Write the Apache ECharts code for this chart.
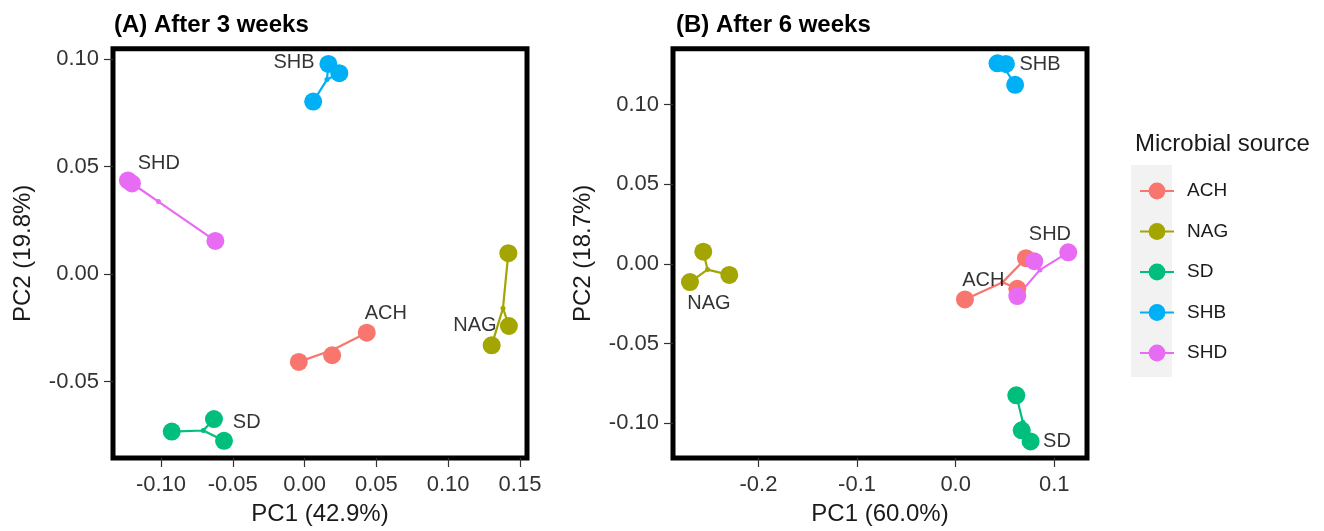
<!DOCTYPE html>
<html><head><meta charset="utf-8">
<script src="https://cdn.jsdelivr.net/npm/echarts@6/dist/echarts.min.js"></script>
<style>html,body{margin:0;padding:0;background:#fff}#c{width:1324px;height:531px}</style>
</head><body><div id="c"></div>
<script>
// ---------- data ----------
const groups = ['ACH', 'NAG', 'SD', 'SHB', 'SHD'];
const groupColors = ['#F8766D', '#A3A500', '#00BF7D', '#00B0F6', '#E76BF3'];

// Panel A: after 3 weeks, [PC1, PC2] per replicate
const wk3_ACH = [[0.0433, -0.0273], [0.0192, -0.0378], [-0.0040, -0.0409]];
const wk3_NAG = [[0.1419, 0.0097], [0.1423, -0.0242], [0.1303, -0.0332]];
const wk3_SD  = [[-0.0925, -0.0733], [-0.0631, -0.0675], [-0.0561, -0.0776]];
const wk3_SHB = [[0.0166, 0.0977], [0.0242, 0.0934], [0.0060, 0.0802]];
const wk3_SHD = [[-0.1230, 0.0435], [-0.1202, 0.0421], [-0.0621, 0.0154]];

// Panel B: after 6 weeks
const wk6_ACH = [[0.0094, -0.0223], [0.0713, 0.0036], [0.0625, -0.0156]];
const wk6_NAG = [[-0.2560, 0.0077], [-0.2296, -0.0069], [-0.2695, -0.0114]];
const wk6_SD  = [[0.0615, -0.0825], [0.0670, -0.1045], [0.0760, -0.1115]];
const wk6_SHB = [[0.0424, 0.1260], [0.0510, 0.1256], [0.0603, 0.1125]];
const wk6_SHD = [[0.0797, 0.0017], [0.0625, -0.0202], [0.1142, 0.0073]];

// group text labels: [name, PC1, PC2]
const wk3_labels = [['SHB', -0.0074, 0.0986], ['SHD', -0.1015, 0.0514], ['NAG', 0.1186, -0.0241],
                    ['ACH', 0.0566, -0.0185], ['SD', -0.0403, -0.0692]];
const wk6_labels = [['SHB', 0.0855, 0.1250], ['NAG', -0.2503, -0.0250], ['SD', 0.1027, -0.1113],
                    ['SHD', 0.0956, 0.0184], ['ACH', 0.0280, -0.0104]];

// axis ticks and ranges
const wk3_xTicks = [-0.10, -0.05, 0.00, 0.05, 0.10, 0.15];
const wk3_yTicks = [-0.05, 0.00, 0.05, 0.10];
const wk6_xTicks = [-0.2, -0.1, 0.0, 0.1];
const wk6_yTicks = [-0.10, -0.05, 0.00, 0.05, 0.10];
const wk3_xRange = [-0.1334, 0.1549], wk3_yRange = [-0.0856, 0.1048];
const wk6_xRange = [-0.2867, 0.1332], wk6_yRange = [-0.1219, 0.1352];

const titles = ['(A) After 3 weeks', '(B) After 6 weeks'];
const xNames = ['PC1 (42.9%)', 'PC1 (60.0%)'];
const yNames = ['PC2 (19.8%)', 'PC2 (18.7%)'];
const legendTitle = 'Microbial source';

// ---------- chart ----------
const FONT = '"Liberation Sans", Arial, Helvetica, sans-serif';
const panels = [
  { pts: [wk3_ACH, wk3_NAG, wk3_SD, wk3_SHB, wk3_SHD], labels: wk3_labels,
    xt: wk3_xTicks, yt: wk3_yTicks, xr: wk3_xRange, yr: wk3_yRange, xd: 2, yd: 2 },
  { pts: [wk6_ACH, wk6_NAG, wk6_SD, wk6_SHB, wk6_SHD], labels: wk6_labels,
    xt: wk6_xTicks, yt: wk6_yTicks, xr: wk6_xRange, yr: wk6_yRange, xd: 1, yd: 2 }
];
const gridPos = [{ left: 113, top: 48.7, width: 414, height: 411.3 },
                 { left: 673, top: 48.7, width: 414, height: 411.3 }];

const grids = [], xAxes = [], yAxes = [], series = [];
panels.forEach((p, i) => {
  grids.push(Object.assign({ show: true, borderColor: '#000', borderWidth: 5, backgroundColor: '#fff', containLabel: false }, gridPos[i]));
  const axisCommon = (ticks, dec, margin) => ({
    type: 'value', gridIndex: i,
    axisLine: { show: false, onZero: false },
    splitLine: { show: false },
    axisTick: { show: true, length: 9, customValues: ticks, lineStyle: { color: '#333', width: 1.2 } },
    axisLabel: { customValues: ticks, formatter: v => v.toFixed(dec), fontSize: 22, color: '#333', fontFamily: FONT, margin: margin },
    nameLocation: 'middle',
    nameTextStyle: { fontSize: 24, color: '#1a1a1a', fontFamily: FONT }
  });
  xAxes.push(Object.assign(axisCommon(p.xt, p.xd, 16), { min: p.xr[0], max: p.xr[1], name: xNames[i], nameGap: 44 }));
  yAxes.push(Object.assign(axisCommon(p.yt, p.yd, 14), { min: p.yr[0], max: p.yr[1], name: yNames[i], nameGap: 78, nameRotate: 90 }));

  // spider lines: each sample to group centroid
  p.pts.forEach((pts, g) => {
    const cx = pts.reduce((s, q) => s + q[0], 0) / pts.length;
    const cy = pts.reduce((s, q) => s + q[1], 0) / pts.length;
    const path = [];
    pts.forEach((q, k) => { if (k > 0) path.push([cx, cy]); path.push(q); });
    series.push({ type: 'line', name: groups[g], xAxisIndex: i, yAxisIndex: i, data: path,
      symbol: 'circle', symbolSize: 18, showSymbol: false, silent: true, animation: false,
      color: groupColors[g], itemStyle: { color: groupColors[g] },
      lineStyle: { color: groupColors[g], width: 2.2 }, z: 2 });
    series.push({ type: 'scatter', name: groups[g], xAxisIndex: i, yAxisIndex: i, data: [[cx, cy]],
      symbol: 'circle', symbolSize: 5, itemStyle: { color: groupColors[g], opacity: 1 }, silent: true, animation: false, z: 3 });
  });
  p.pts.forEach((pts, g) => {
    series.push({ type: 'scatter', name: groups[g], xAxisIndex: i, yAxisIndex: i, data: pts,
      symbol: 'circle', symbolSize: 18, itemStyle: { color: groupColors[g], opacity: 1 }, silent: true, animation: false, z: 4 });
  });
  series.push({ type: 'scatter', name: 'labels' + i, xAxisIndex: i, yAxisIndex: i,
    data: p.labels.map(l => [l[1], l[2], l[0]]), symbolSize: 0.1, itemStyle: { color: 'rgba(0,0,0,0)' },
    label: { show: true, position: 'inside', formatter: d => d.value[2], fontSize: 20, color: '#000', fontFamily: FONT },
    silent: true, animation: false, z: 5 });
});

const option = {
  animation: false,
  backgroundColor: '#fff',
  textStyle: { fontFamily: FONT },
  title: [
    { text: titles[0], left: 109, top: 8, textStyle: { fontSize: 24, fontWeight: 'bold', color: '#000', fontFamily: FONT } },
    { text: titles[1], left: 671, top: 8, textStyle: { fontSize: 24, fontWeight: 'bold', color: '#000', fontFamily: FONT } },
    { text: legendTitle, left: 1130, top: 127, textStyle: { fontSize: 24, fontWeight: 'normal', color: '#1a1a1a', fontFamily: FONT } }
  ],
  graphic: [{ type: 'rect', left: 1131, top: 165, shape: { width: 41, height: 212 }, style: { fill: '#F2F2F2' }, z: -1 }],
  legend: {
    data: groups, orient: 'vertical', left: 1134, top: 176.5,
    itemWidth: 34, itemHeight: 21, itemGap: 21.5,
    textStyle: { fontSize: 19, color: '#1a1a1a', fontFamily: FONT, padding: [0, 0, 0, 8] },
    selectedMode: false
  },
  grid: grids, xAxis: xAxes, yAxis: yAxes, series: series
};
const chart = echarts.init(document.getElementById('c'), null, { renderer: 'canvas' });
chart.setOption(option);
</script></body></html>
